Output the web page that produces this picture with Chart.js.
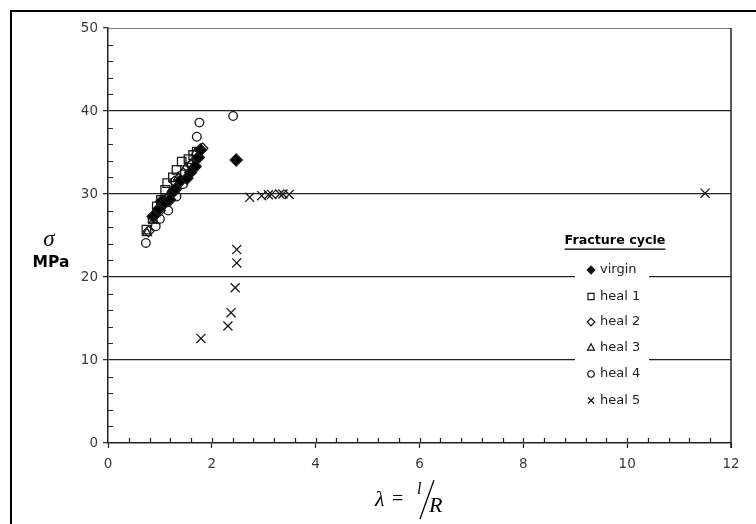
<!DOCTYPE html>
<html>
<head>
<meta charset="utf-8">
<script src="https://cdn.jsdelivr.net/npm/chart.js@4"></script>
<style>
  html, body { margin: 0; padding: 0; background: #fff; }
  #wrap { position: relative; width: 756px; height: 524px; }
  canvas { display: block; }
</style>
</head>
<body>
<div id="wrap"><canvas id="c" width="756" height="524"></canvas></div>
<script>
// ---- data ----
const seriesNames = ["virgin", "heal 1", "heal 2", "heal 3", "heal 4", "heal 5"];
const xTicks = [0, 2, 4, 6, 8, 10, 12];
const yTicks = [0, 10, 20, 30, 40, 50];

const virginPts = [
  [0.87, 27.3], [0.98, 28.2], [1.03, 29.1], [1.10, 29.0], [1.19, 29.3], [1.26, 30.3],
  [1.30, 30.6], [1.40, 31.6], [1.52, 31.9], [1.59, 32.6], [1.68, 33.3], [1.74, 34.4],
  [1.78, 35.3], [2.47, 34.1]
];
const heal1Pts = [
  [0.74, 25.7], [0.86, 27.0], [0.94, 28.5], [1.02, 29.3], [1.10, 30.5], [1.14, 31.3],
  [1.25, 32.0], [1.32, 32.9], [1.42, 33.9], [1.55, 34.2], [1.64, 34.7], [1.71, 35.1]
];
const heal2Pts = [
  [0.78, 25.5], [0.90, 27.5], [1.00, 28.0], [1.15, 29.5], [1.28, 31.5], [1.45, 32.5],
  [1.60, 33.5], [1.72, 34.3], [1.82, 35.5]
];
const heal3Pts = [
  [0.75, 25.3], [0.88, 26.8], [1.00, 28.6], [1.20, 30.2], [1.35, 32.0], [1.50, 33.2],
  [1.68, 34.9]
];
const heal4Pts = [
  [0.73, 24.1], [0.92, 26.1], [1.00, 27.0], [1.16, 28.0], [1.32, 29.7], [1.45, 31.2],
  [1.60, 33.5], [1.71, 36.9], [1.76, 38.6], [2.41, 39.4]
];
const heal5Pts = [
  [1.79, 12.6], [2.31, 14.1], [2.37, 15.7], [2.45, 18.7], [2.48, 21.7], [2.48, 23.3],
  [2.73, 29.6], [2.96, 29.8], [3.09, 29.9], [3.15, 29.95], [3.31, 30.0], [3.37, 30.0],
  [3.49, 29.95], [11.5, 30.1]
];

const toXY = arr => arr.map(p => ({ x: p[0], y: p[1] }));

const styles = [
  { pointStyle: 'rectRot', radius: 6.0, fill: '#000' },
  { pointStyle: 'rect', radius: 6.0, fill: 'rgba(0,0,0,0)' },
  { pointStyle: 'rectRot', radius: 5.4, fill: 'rgba(0,0,0,0)' },
  { pointStyle: 'triangle', radius: 5.2, fill: 'rgba(0,0,0,0)' },
  { pointStyle: 'circle', radius: 4.3, fill: 'rgba(0,0,0,0)' },
  { pointStyle: 'crossRot', radius: 6.4, fill: 'rgba(0,0,0,0)' }
];
const allPts = [virginPts, heal1Pts, heal2Pts, heal3Pts, heal4Pts, heal5Pts];

const datasets = seriesNames.map((n, i) => ({
  label: n,
  data: toXY(allPts[i]),
  pointStyle: styles[i].pointStyle,
  pointRadius: styles[i].radius,
  pointHoverRadius: styles[i].radius,
  pointBackgroundColor: styles[i].fill,
  pointBorderColor: '#1a1a1a',
  pointBorderWidth: 1.3,
  showLine: false
}));

const FONT = '"DejaVu Sans", "Liberation Sans", Arial, sans-serif';

function marker(ctx, style, x, y, r, filled) {
  ctx.save();
  ctx.beginPath();
  ctx.lineWidth = 1.2;
  ctx.strokeStyle = '#111';
  ctx.fillStyle = '#111';
  if (style === 'rectRot') {
    ctx.moveTo(x, y - r); ctx.lineTo(x + r, y); ctx.lineTo(x, y + r); ctx.lineTo(x - r, y); ctx.closePath();
  } else if (style === 'rect') {
    ctx.rect(x - r * 0.8, y - r * 0.8, r * 1.6, r * 1.6);
  } else if (style === 'triangle') {
    ctx.moveTo(x, y - r); ctx.lineTo(x + r * 0.9, y + r * 0.7); ctx.lineTo(x - r * 0.9, y + r * 0.7); ctx.closePath();
  } else if (style === 'circle') {
    ctx.arc(x, y, r * 0.85, 0, Math.PI * 2);
  } else if (style === 'crossRot') {
    const d = r * 0.8;
    ctx.moveTo(x - d, y - d); ctx.lineTo(x + d, y + d); ctx.moveTo(x + d, y - d); ctx.lineTo(x - d, y + d);
  }
  if (filled) ctx.fill();
  ctx.stroke();
  ctx.restore();
}

const decor = {
  id: 'decor',
  beforeDatasetsDraw(chart) {
    const ctx = chart.ctx;
    const a = chart.chartArea;
    const xs = chart.scales.x, ys = chart.scales.y;
    ctx.save();
    // plot frame top & right
    ctx.strokeStyle = '#777';
    ctx.lineWidth = 1.2;
    ctx.beginPath();
    ctx.moveTo(a.left, a.top + 0.5); ctx.lineTo(a.right, a.top + 0.5);
    ctx.stroke();
    ctx.strokeStyle = '#222';
    ctx.lineWidth = 1.5;
    ctx.beginPath();
    ctx.moveTo(a.right, a.top); ctx.lineTo(a.right, a.bottom + 5);
    ctx.stroke();
    // minor inward ticks
    ctx.strokeStyle = '#222';
    ctx.lineWidth = 1.2;
    ctx.beginPath();
    for (let v = 0.4; v < 12; v += 0.4) {
      const px = Math.round(xs.getPixelForValue(v)) + 0.5;
      ctx.moveTo(px, a.bottom); ctx.lineTo(px, a.bottom - 5);
    }
    for (let v = 2; v < 50; v += 2) {
      if (v % 10 === 0) continue;
      const py = Math.round(ys.getPixelForValue(v)) + 0.5;
      ctx.moveTo(a.left, py); ctx.lineTo(a.left + 5, py);
    }
    ctx.stroke();
    ctx.restore();
  },
  afterDatasetsDraw(chart) {
    const ctx = chart.ctx;
    ctx.save();
    // outer frame
    ctx.strokeStyle = '#000';
    ctx.lineWidth = 2;
    ctx.beginPath();
    ctx.moveTo(11, 524); ctx.lineTo(11, 11); ctx.lineTo(756, 11);
    ctx.stroke();

    // legend box
    ctx.fillStyle = '#fff';
    ctx.fillRect(575, 258, 74, 154);
    ctx.fillStyle = '#000';
    ctx.font = 'bold 12.7px ' + FONT;
    ctx.textAlign = 'center';
    ctx.textBaseline = 'middle';
    ctx.fillText('Fracture cycle', 615, 241);
    const tw = ctx.measureText('Fracture cycle').width;
    ctx.fillRect(615 - tw / 2, 248.5, tw, 1.3);
    ctx.font = '13px ' + FONT;
    ctx.textAlign = 'left';
    const ly = [270, 296.5, 322, 347.5, 374, 400.5];
    seriesNames.forEach((n, i) => {
      marker(ctx, styles[i].pointStyle, 591, ly[i], 3.8, i === 0);
      ctx.fillStyle = '#222';
      ctx.fillText(n, 600, ly[i]);
    });

    // y axis title
    ctx.fillStyle = '#000';
    ctx.textAlign = 'center';
    ctx.font = 'italic 23px "Liberation Serif", "Times New Roman", serif';
    ctx.fillText('σ', 49, 240);
    ctx.font = 'bold 15.5px ' + FONT;
    ctx.fillText('MPa', 51, 263);

    // x axis title  λ = l/R
    ctx.textAlign = 'left';
    ctx.font = 'italic 22px "Liberation Serif", "Times New Roman", serif';
    ctx.fillText('λ', 375, 500);
    ctx.font = '20px "Liberation Serif", "Times New Roman", serif';
    ctx.fillText('=', 392, 500);
    ctx.font = 'italic 16px "Liberation Serif", "Times New Roman", serif';
    ctx.fillText('l', 417, 490);
    ctx.strokeStyle = '#000';
    ctx.lineWidth = 1.3;
    ctx.beginPath();
    ctx.moveTo(434, 480); ctx.lineTo(420, 519);
    ctx.stroke();
    ctx.font = 'italic 22px "Liberation Serif", "Times New Roman", serif';
    ctx.fillText('R', 429, 506);
    ctx.restore();
  }
};

new Chart(document.getElementById('c'), {
  type: 'scatter',
  data: { datasets },
  plugins: [decor],
  options: {
    responsive: false,
    animation: false,
    events: [],
    layout: { padding: { left: 0, top: 28, right: 25, bottom: 0 } },
    plugins: { legend: { display: false }, tooltip: { enabled: false } },
    scales: {
      x: {
        type: 'linear',
        min: 0, max: 12,
        afterBuildTicks: s => { s.ticks = xTicks.map(v => ({ value: v })); },
        afterFit: s => { s.height = 81; },
        border: { display: true, color: '#222', width: 1.5 },
        grid: { drawOnChartArea: false, drawTicks: true, tickLength: 5, tickColor: '#222', tickWidth: 1.2 },
        ticks: { color: '#3a3a3a', font: { family: FONT, size: 13.5 }, padding: 8, maxRotation: 0 }
      },
      y: {
        type: 'linear',
        min: 0, max: 50,
        afterBuildTicks: s => { s.ticks = yTicks.map(v => ({ value: v })); },
        afterFit: s => { s.width = 108; },
        border: { display: true, color: '#222', width: 1.5 },
        grid: {
          drawOnChartArea: true,
          drawTicks: true,
          tickLength: 5,
          tickColor: '#222',
          tickWidth: 1.2,
          color: c => (c.tick && (c.tick.value === 0 || c.tick.value === 50)) ? 'rgba(0,0,0,0)' : '#222',
          lineWidth: 1.3
        },
        ticks: { color: '#3a3a3a', font: { family: FONT, size: 13.5 }, padding: 5 }
      }
    }
  }
});
</script>
</body>
</html>
